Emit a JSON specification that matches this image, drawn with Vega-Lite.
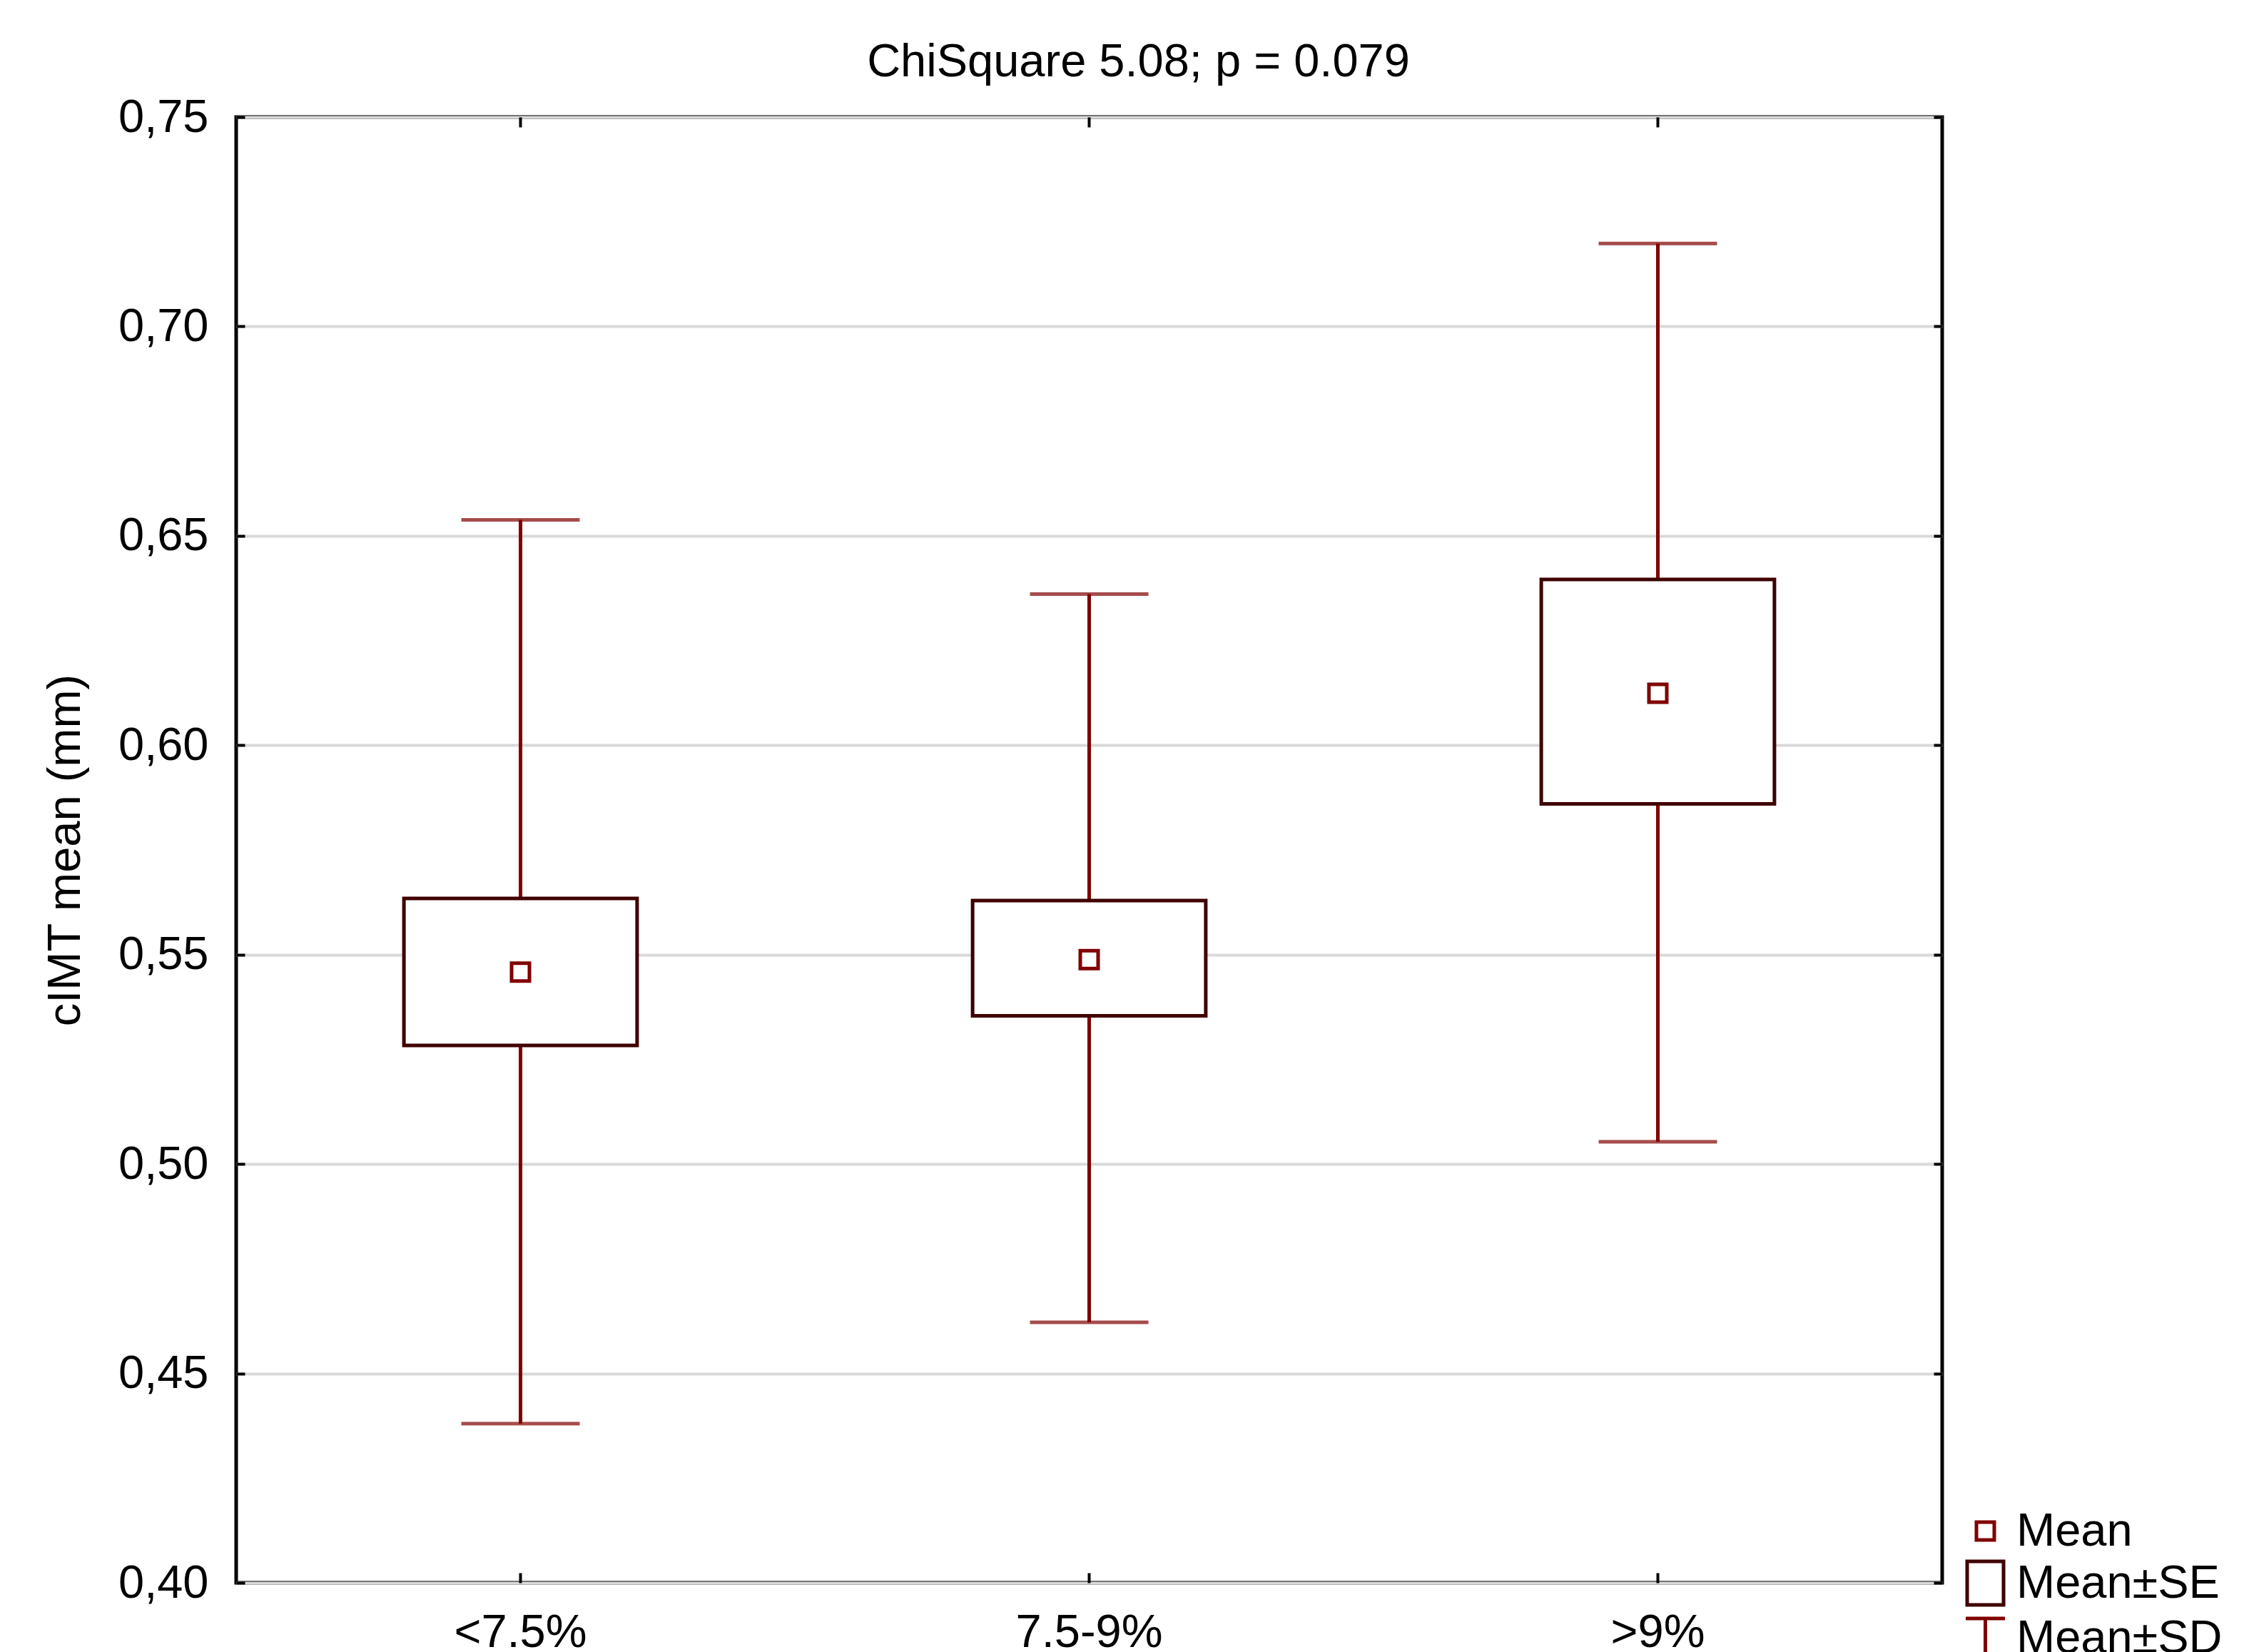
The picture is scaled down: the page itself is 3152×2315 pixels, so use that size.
{
  "$schema": "https://vega.github.io/schema/vega-lite/v6.json",
  "width": 2391,
  "height": 2054,
  "autosize": {"type": "none"},
  "padding": {"left": 331, "top": 164, "right": 430, "bottom": 97},
  "background": "white",
  "title": {
    "text": "ChiSquare 5.08; p = 0.079",
    "font": "Liberation Sans",
    "fontSize": 65,
    "fontWeight": "normal",
    "color": "black",
    "frame": "group",
    "anchor": "middle",
    "baseline": "alphabetic",
    "offset": 57,
    "dx": 69,
    "dy": 97
  },
  "config": {
    "view": {"stroke": "black", "strokeWidth": 5},
    "font": "Liberation Sans",
    "axis": {
      "labelFont": "Liberation Sans",
      "labelFontSize": 65,
      "labelColor": "black",
      "labelLimit": 0,
      "tickColor": "black",
      "tickWidth": 4,
      "domain": false,
      "grid": false,
      "titleFont": "Liberation Sans",
      "titleFontWeight": "normal",
      "titleFontSize": 65,
      "titleColor": "black"
    }
  },
  "data": {
    "values": [
      {"group": "<7.5%", "sdLow": 0.438, "seLow": 0.5283, "mean": 0.5458, "seHigh": 0.5634, "sdHigh": 0.6538},
      {"group": "7.5-9%", "sdLow": 0.4622, "seLow": 0.5354, "mean": 0.5488, "seHigh": 0.5629, "sdHigh": 0.6361},
      {"group": ">9%", "sdLow": 0.5053, "seLow": 0.586, "mean": 0.6124, "seHigh": 0.6396, "sdHigh": 0.7198}
    ]
  },
  "layer": [
    {
      "mark": {"type": "rule", "color": "#800000", "strokeWidth": 5},
      "encoding": {
        "x": {
          "field": "group", "type": "nominal", "sort": ["<7.5%", "7.5-9%", ">9%"],
          "scale": {"paddingInner": 0, "paddingOuter": 0},
          "axis": {"orient": "bottom", "title": null, "labelAngle": 0, "tickSize": -14, "labelPadding": 52, "labelBaseline": "top", "labelLimit": 0}
        },
        "y": {
          "field": "sdLow", "type": "quantitative",
          "scale": {"domain": [0.4, 0.75], "nice": false, "zero": false},
          "axis": {
            "orient": "left",
            "title": "cIMT mean (mm)",
            "values": [0.4, 0.45, 0.5, 0.55, 0.6, 0.65, 0.7, 0.75],
            "labelExpr": "replace(format(datum.value, '.2f'), '.', ',')",
            "tickSize": -12,
            "labelPadding": 51,
            "grid": true,
            "gridColor": "#d9d9d9",
            "gridWidth": 4,
            "titleBaseline": "alphabetic",
            "titlePadding": 54
          }
        },
        "y2": {"field": "sdHigh"}
      }
    },
    {
      "mark": {"type": "tick", "color": "#800000", "thickness": 5, "size": 166},
      "encoding": {
        "x": {
          "field": "group", "type": "nominal", "sort": ["<7.5%", "7.5-9%", ">9%"],
          "axis": {"orient": "top", "title": null, "labels": false, "tickSize": -14}
        },
        "y": {
          "field": "sdHigh", "type": "quantitative",
          "axis": {"orient": "right", "title": null, "labels": false, "tickSize": -12, "grid": false,
                   "values": [0.4, 0.45, 0.5, 0.55, 0.6, 0.65, 0.7, 0.75]}
        }
      }
    },
    {
      "mark": {"type": "tick", "color": "#800000", "thickness": 5, "size": 166},
      "encoding": {
        "x": {"field": "group", "type": "nominal", "sort": ["<7.5%", "7.5-9%", ">9%"], "axis": null},
        "y": {"field": "sdLow", "type": "quantitative", "axis": null}
      }
    },
    {
      "mark": {"type": "bar", "fill": "white", "stroke": "#400000", "strokeWidth": 5, "width": {"band": 0.41}},
      "encoding": {
        "x": {"field": "group", "type": "nominal", "sort": ["<7.5%", "7.5-9%", ">9%"], "axis": null},
        "y": {"field": "seLow", "type": "quantitative", "axis": null},
        "y2": {"field": "seHigh"}
      }
    },
    {
      "mark": {"type": "point", "filled": false, "strokeWidth": 5, "opacity": 1},
      "encoding": {
        "x": {"field": "group", "type": "nominal", "sort": ["<7.5%", "7.5-9%", ">9%"], "axis": null},
        "y": {"field": "mean", "type": "quantitative", "axis": null},
        "shape": {
          "datum": "Mean", "type": "nominal",
          "scale": {"domain": ["Mean", "Mean±SE", "Mean±SD"], "range": ["square", "M-1,-1.2H1V1.2H-1Z", "M-1,-1H1M0,-1V1"]},
          "legend": {
            "title": null,
            "orient": "none",
            "legendX": 2419,
            "legendY": 1949,
            "padding": 0,
            "labelFont": "Liberation Sans",
            "labelFontSize": 65,
            "labelColor": "black",
            "labelLimit": 0,
            "labelOffset": 11,
            "rowPadding": -2,
            "symbolStrokeWidth": 5,
            "symbolFillColor": "transparent"
          }
        },
        "size": {
          "datum": "Mean", "type": "nominal",
          "scale": {"type": "ordinal", "domain": ["Mean", "Mean±SE", "Mean±SD"], "range": [625, 2601, 3025]}
        },
        "stroke": {
          "datum": "Mean", "type": "nominal",
          "scale": {"domain": ["Mean", "Mean±SE", "Mean±SD"], "range": ["#800000", "#400000", "#800000"]}
        }
      }
    }
  ],
  "resolve": {"axis": {"x": "independent", "y": "independent"}}
}
